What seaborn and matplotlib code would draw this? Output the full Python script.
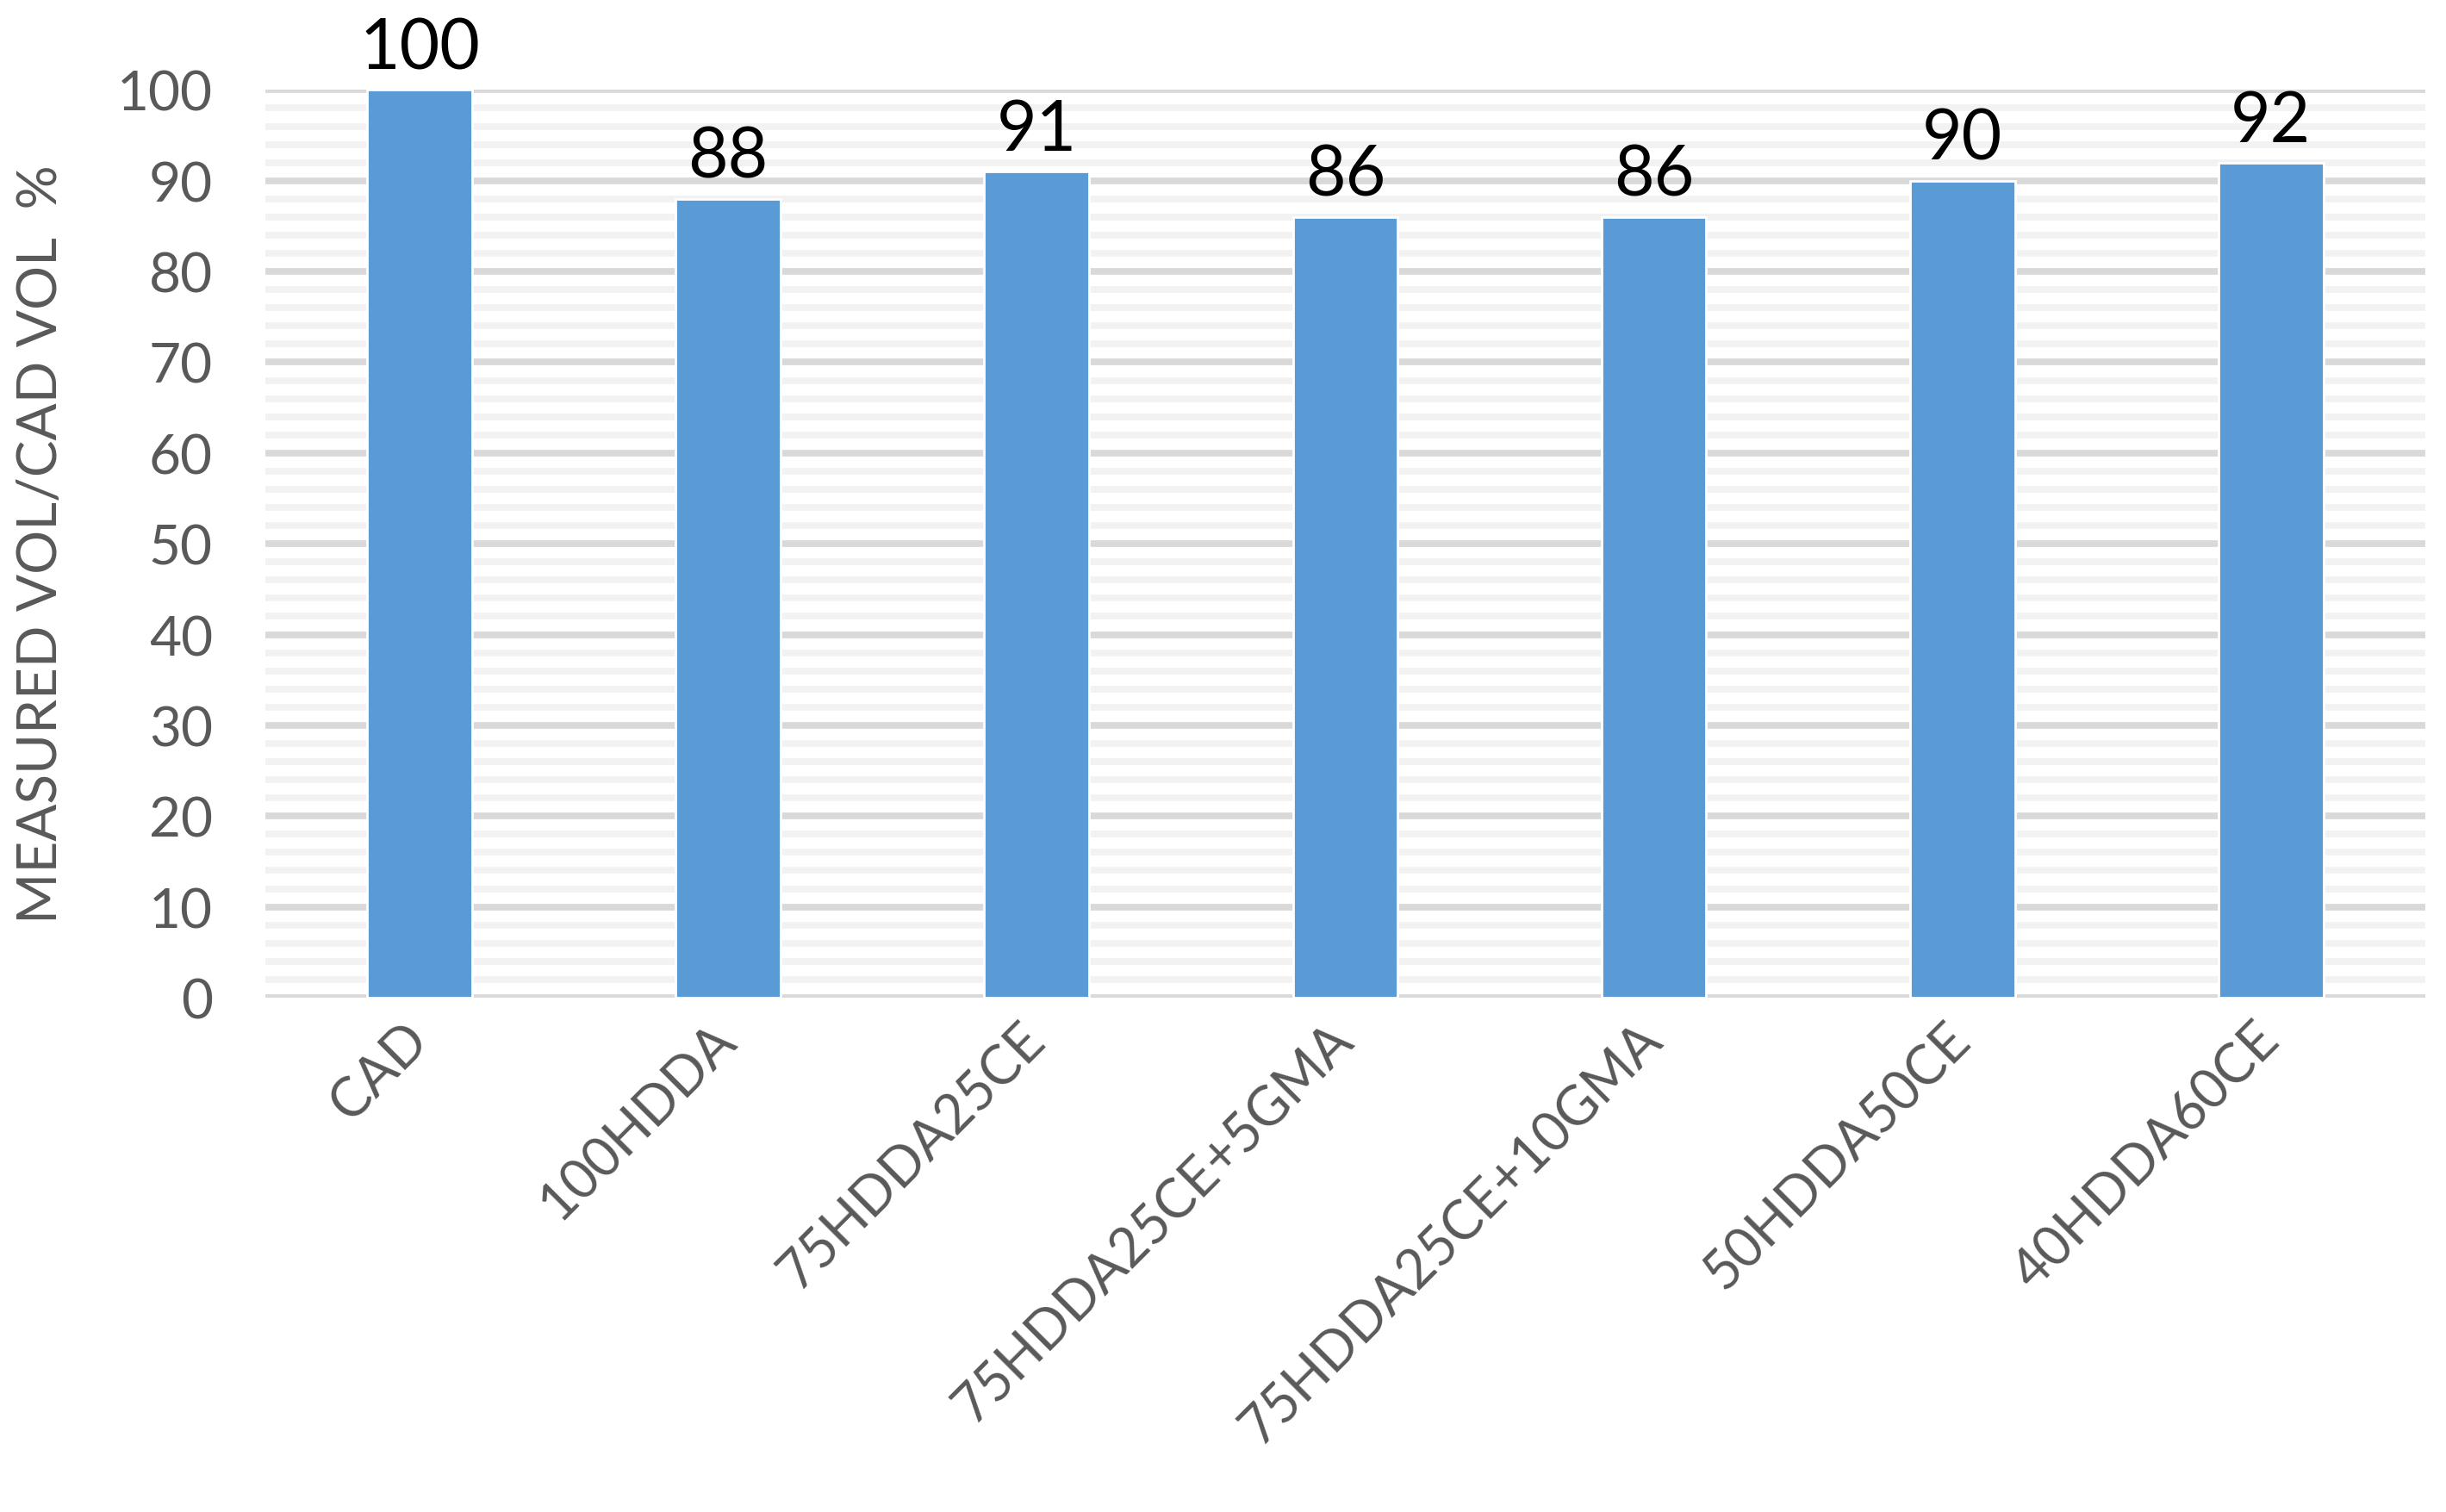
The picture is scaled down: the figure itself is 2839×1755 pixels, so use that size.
import matplotlib
matplotlib.use("Agg")
import matplotlib.pyplot as plt
from matplotlib.ticker import MultipleLocator
import seaborn as sns
import pandas as pd

# data
samples = ["CAD", "100HDDA", "75HDDA25CE", "75HDDA25CE+5GMA",
           "75HDDA25CE+10GMA", "50HDDA50CE", "40HDDA60CE"]
vol_ratio = [100, 88, 91, 86, 86, 90, 92]

df = pd.DataFrame({"sample": samples, "ratio": vol_ratio})

sns.set_style("white")
plt.rcParams["font.family"] = ["Lato", "DejaVu Sans"]

fig = plt.figure(figsize=(14.195, 8.78), dpi=200)
ax = fig.add_axes([0.1085, 0.340, 0.883, 0.600])

sns.barplot(data=df, x="sample", y="ratio", color="#5B9BD5", saturation=1,
            width=0.34, ax=ax, zorder=3)

ax.set_ylim(0, 100)
ax.set_xlim(-0.5, 6.5)
ax.yaxis.set_major_locator(MultipleLocator(10))
ax.yaxis.set_minor_locator(MultipleLocator(2))
ax.grid(which="major", axis="y", color="#D9D9D9", linewidth=2.8, zorder=1)
ax.grid(which="minor", axis="y", color="#F2F2F2", linewidth=2.8, zorder=0)
ax.set_axisbelow(True)
sns.despine(ax=ax, left=True, bottom=True)

# value labels on top of bars
ax.bar_label(ax.containers[0], fmt="%d", padding=4, fontsize=29,
             color="black", clip_on=False)

ax.tick_params(axis="y", which="both", length=0, pad=22, labelsize=23,
               labelcolor="#595959")
ax.tick_params(axis="x", length=0, pad=14, labelsize=22.5, labelcolor="#595959")
plt.setp(ax.get_xticklabels(), rotation=45, ha="right", va="center",
         rotation_mode="anchor")

ax.set_xlabel("")
ax.set_ylabel("MEASURED VOL/CAD VOL  %", fontsize=23, color="#595959")
ax.yaxis.set_label_coords(-0.092, 0.5)

plt.savefig("out.png", dpi=200)
